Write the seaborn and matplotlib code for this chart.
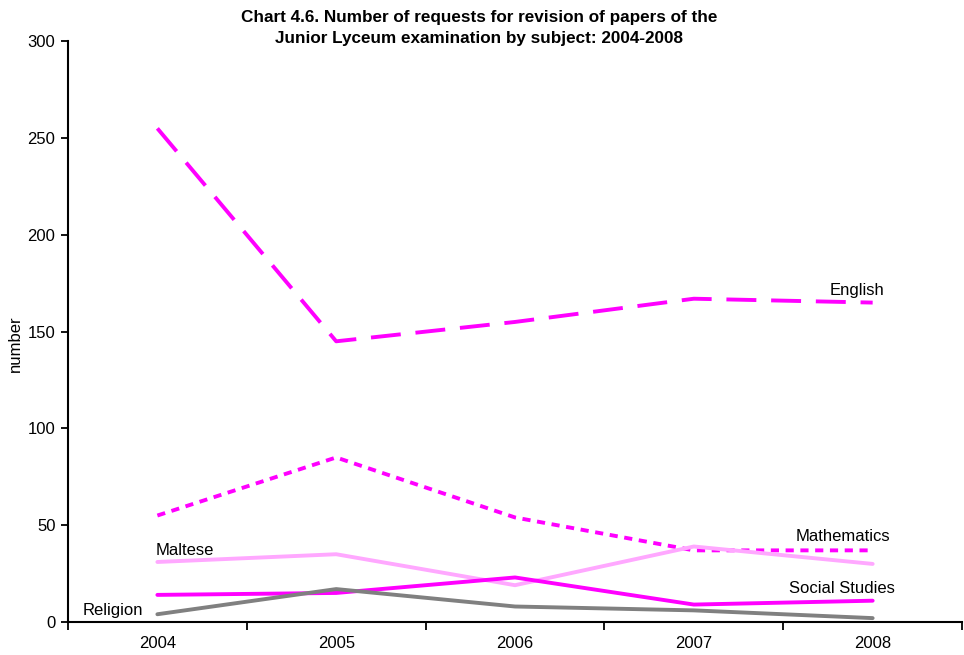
import matplotlib
matplotlib.use("Agg")
import matplotlib.pyplot as plt
import seaborn as sns
import pandas as pd
from matplotlib.ticker import FixedLocator, NullFormatter

years = ["2004", "2005", "2006", "2007", "2008"]
english = [255, 145, 155, 167, 165]
mathematics = [55, 85, 54, 37, 37]
maltese = [31, 35, 19, 39, 30]
social_studies = [14, 15, 23, 9, 11]
religion = [4, 17, 8, 6, 2]

series = {
    "English": english,
    "Mathematics": mathematics,
    "Maltese": maltese,
    "Social Studies": social_studies,
    "Religion": religion,
}

rows = []
for name, vals in series.items():
    for i, v in enumerate(vals):
        rows.append({"pos": i, "year": years[i], "subject": name, "value": v})
df = pd.DataFrame(rows)

sns.set_style("white")
plt.rcParams['font.family'] = ['Liberation Sans', 'DejaVu Sans']
plt.rcParams['text.color'] = 'black'
plt.rcParams['axes.labelcolor'] = 'black'
plt.rcParams['xtick.color'] = 'black'
plt.rcParams['ytick.color'] = 'black'

palette = {
    "English": "#FF00FF",
    "Mathematics": "#FF00FF",
    "Maltese": "#FFA8FF",
    "Social Studies": "#FF00FF",
    "Religion": "#808080",
}
dashes = {
    "English": (7.7, 3.8),
    "Mathematics": (2.1, 1.7),
    "Maltese": "",
    "Social Studies": "",
    "Religion": "",
}

FS = 12

fig = plt.figure(figsize=(9.64, 6.55), dpi=100)
ax = fig.add_axes([0.0705, 0.0504, 0.9275, 0.8866])

sns.lineplot(data=df, x="pos", y="value", hue="subject", style="subject",
             palette=palette, dashes=dashes, linewidth=2.8, legend=False, ax=ax)
for ln in ax.get_lines():
    ln.set_dash_capstyle("butt")

ax.set_xlim(-0.5, 4.5)
ax.set_ylim(0, 300)
ax.set_yticks(range(0, 301, 50))
ax.set_xticks(range(len(years)))
ax.set_xticklabels(years)
ax.xaxis.set_minor_locator(FixedLocator([i - 0.5 for i in range(len(years) + 1)]))
ax.xaxis.set_minor_formatter(NullFormatter())
ax.tick_params(axis="x", which="major", length=0, pad=10, labelsize=FS)
ax.tick_params(axis="x", which="minor", length=6, width=1.3, direction="out", bottom=True)
ax.tick_params(axis="y", length=5, width=1.3, direction="out", left=True, labelsize=FS, pad=4)

for s in ["top", "right"]:
    ax.spines[s].set_visible(False)
for s in ["left", "bottom"]:
    ax.spines[s].set_linewidth(1.5)
    ax.spines[s].set_color("black")

ax.set_xlabel("")
ax.set_ylabel("number", fontsize=FS, va="center")
ax.yaxis.set_label_coords(-0.059, 0.48)

ax.text(3.76, 171, "English", fontsize=FS, ha="left", va="center")
ax.text(3.57, 44, "Mathematics", fontsize=FS, ha="left", va="center")
ax.text(3.53, 17.5, "Social Studies", fontsize=FS, ha="left", va="center")
ax.text(-0.01, 37, "Maltese", fontsize=FS, ha="left", va="center")
ax.text(-0.42, 6, "Religion", fontsize=FS, ha="left", va="center")

fig.text(0.497, 0.957, "Chart 4.6. Number of requests for revision of papers of the\nJunior Lyceum examination by subject: 2004-2008",
         ha="center", va="center", fontsize=12.3, fontweight="bold", linespacing=1.5)

fig.savefig("out.png", dpi=100)
